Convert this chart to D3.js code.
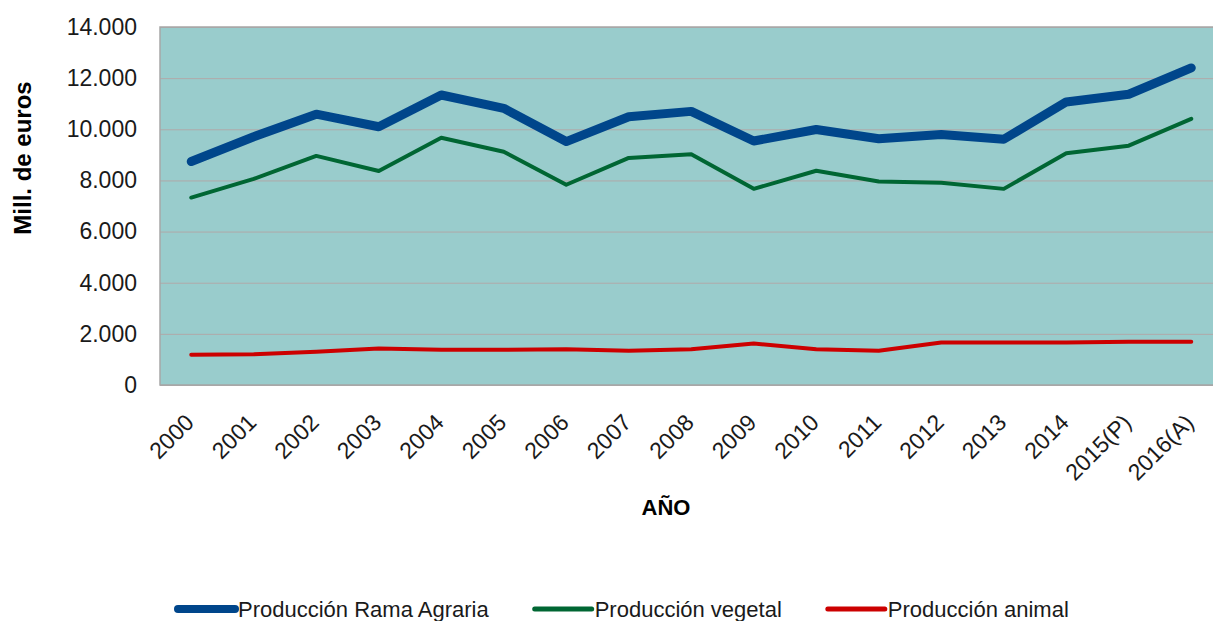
<!DOCTYPE html>
<html>
<head>
<meta charset="utf-8">
<script src="https://cdn.jsdelivr.net/npm/d3@7"></script>
<style>
  body { margin: 0; background: #ffffff; }
  svg { display: block; font-family: "Liberation Sans", Arial, sans-serif; }
</style>
</head>
<body>
<svg width="1213" height="621"></svg>
<script>
var years = ["2000", "2001", "2002", "2003", "2004", "2005", "2006", "2007", "2008",
             "2009", "2010", "2011", "2012", "2013", "2014", "2015(P)", "2016(A)"];

var ramaAgraria = [8740, 9710, 10590, 10100, 11340, 10820, 9520, 10490, 10700,
                   9540, 9990, 9630, 9800, 9610, 11070, 11370, 12400];
var vegetal = [7330, 8060, 8960, 8370, 9670, 9120, 7830, 8880, 9020,
               7670, 8380, 7960, 7910, 7670, 9060, 9360, 10410];
var animal = [1180, 1200, 1300, 1430, 1380, 1380, 1400, 1340, 1400,
              1620, 1400, 1340, 1660, 1660, 1660, 1690, 1690];

var yTicks = [0, 2000, 4000, 6000, 8000, 10000, 12000, 14000];

var series = [
  { name: "Producción Rama Agraria", values: ramaAgraria, color: "#00468b", width: 9, legendWidth: 8 },
  { name: "Producción vegetal", values: vegetal, color: "#006633", width: 4, legendWidth: 5 },
  { name: "Producción animal", values: animal, color: "#cc0000", width: 4, legendWidth: 5 }
];

function createLineChart()
{
  var svg = d3.select("svg");
  var left = 160, top = 27, height = 358, band = 62.5;
  var width = band * years.length;

  var xScale = d3.scalePoint()
      .domain(years)
      .range([band / 2, width - band / 2]);

  var yScale = d3.scaleLinear()
      .domain([0, 14000])
      .range([height, 0]);

  var fmt = function(v) { return d3.format(",")(v).replace(/,/g, "."); };

  var g = svg.append("g")
      .attr("transform", "translate(" + left + "," + top + ")");

  // plot background
  g.append("rect")
      .attr("x", 0)
      .attr("y", 0)
      .attr("width", width)
      .attr("height", height)
      .style("fill", "#99cccc");

  // grid lines
  g.append("g")
      .attr("class", "grid")
      .call(d3.axisLeft(yScale).tickValues(yTicks).tickSize(-width).tickFormat(""))
      .call(function(a) { a.select(".domain").remove(); })
      .selectAll("line")
      .style("stroke", "#b0a9a9")
      .style("stroke-width", 1);

  g.append("rect")
      .attr("x", 0)
      .attr("y", 0)
      .attr("width", width)
      .attr("height", height)
      .style("fill", "none")
      .style("stroke", "#a6a6a6")
      .style("stroke-width", 1.5);

  // y axis labels
  var yAxis = g.append("g")
      .attr("class", "y axis")
      .call(d3.axisLeft(yScale).tickValues(yTicks).tickSize(0).tickPadding(23).tickFormat(fmt));
  yAxis.select(".domain").remove();
  yAxis.selectAll("text")
      .style("font-family", "Liberation Sans, Arial, sans-serif")
      .style("font-size", "23px")
      .style("fill", "#1a1a1a");

  // x axis labels
  g.append("g")
      .attr("class", "x axis")
      .selectAll("text")
      .data(years)
      .enter()
      .append("text")
      .attr("transform", function(d) { return "translate(" + (xScale(d) + 4) + "," + (height + 39) + ") rotate(-45)"; })
      .style("text-anchor", "end")
      .style("font-size", "23px")
      .style("fill", "#1a1a1a")
      .text(function(d) { return d; });

  // lines
  var line = d3.line()
      .x(function(d, i) { return xScale(years[i]); })
      .y(function(d) { return yScale(d); });

  g.selectAll(".line")
      .data(series)
      .enter()
      .append("path")
      .attr("class", "line")
      .attr("fill", "none")
      .attr("stroke", function(d) { return d.color; })
      .attr("stroke-width", function(d) { return d.width; })
      .attr("stroke-linecap", "round")
      .attr("stroke-linejoin", "round")
      .attr("d", function(d) { return line(d.values); });

  // axis titles
  svg.append("text")
      .attr("transform", "translate(31,158) rotate(-90)")
      .style("text-anchor", "middle")
      .style("font-weight", "bold")
      .style("font-size", "24px")
      .style("fill", "#000")
      .text("Mill. de euros");

  svg.append("text")
      .attr("x", 666)
      .attr("y", 515)
      .style("text-anchor", "middle")
      .style("font-weight", "bold")
      .style("font-size", "22px")
      .style("fill", "#000")
      .text("AÑO");

  // legend
  var lx = 178;
  series.forEach(function(s) {
    var item = svg.append("g")
        .attr("class", "legend")
        .attr("transform", "translate(" + lx + ",609)");
    item.append("line")
        .attr("x1", 0)
        .attr("x2", 57)
        .attr("y1", 0)
        .attr("y2", 0)
        .attr("stroke", s.color)
        .attr("stroke-width", s.legendWidth)
        .attr("stroke-linecap", "round");
    var t = item.append("text")
        .attr("x", 60)
        .attr("y", 8)
        .style("font-size", "22px")
        .style("fill", "#1a1a1a")
        .text(s.name);
    lx += 60 + t.node().getComputedTextLength() + 46;
  });
}

createLineChart();
</script>
</body>
</html>
